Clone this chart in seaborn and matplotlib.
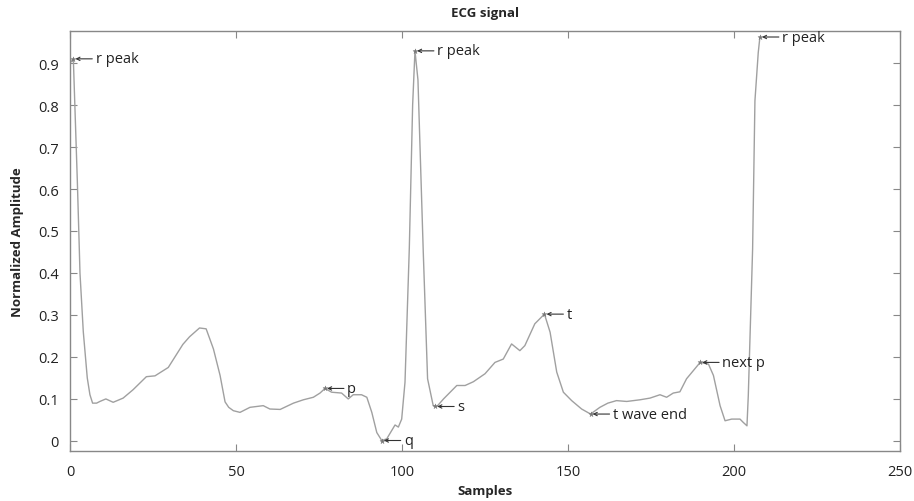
import matplotlib
matplotlib.use("Agg")
import matplotlib.pyplot as plt
import seaborn as sns
import pandas as pd

samples = [0, 1, 2.2, 2.8, 3, 4, 5.2, 6.0, 6.8, 8, 9, 10.8, 13, 16, 19, 23, 25.6, 28, 29.6, 32, 34, 36, 39, 41,
           43.2, 45.2, 46.7, 47.8, 49.2, 51.2, 54.2, 58.2, 60.2, 63.3, 67.3, 70.3, 73.3, 75.3, 76.8, 78.8,
           81.8, 83.8, 85.3, 87.8, 89.4, 90.9, 92.4, 93.9, 95.4, 97.9, 98.9, 99.9, 100.9, 102.2, 103.2,
           103.9, 104.8, 106.4, 107.7, 109.4, 110.5, 112.5, 114.5, 116.5, 119, 121.5, 125, 128, 130.5,
           133, 135.5, 137, 140, 142.9, 144.6, 146.6, 148.6, 151.1, 154.1, 156.8, 159.6, 162, 164.6,
           167.7, 171.7, 174.7, 177.7, 179.7, 181.7, 183.7, 185.7, 187.7, 189.8, 192.3, 193.8, 195.8,
           197.3, 199.3, 201.8, 202.8, 203.9, 204.3, 205.6, 206.3, 207.3, 207.8]
amplitude = [0.90, 0.91, 0.62, 0.457, 0.40, 0.26, 0.15, 0.11, 0.090, 0.090, 0.094, 0.100, 0.092, 0.102, 0.122, 0.153,
             0.155, 0.167, 0.175, 0.205, 0.230, 0.248, 0.269, 0.267, 0.219, 0.156, 0.093, 0.080, 0.072, 0.068,
             0.080, 0.084, 0.076, 0.075, 0.090, 0.098, 0.104, 0.114, 0.125, 0.116, 0.114, 0.100, 0.110,
             0.110, 0.104, 0.068, 0.020, 0.001, 0.005, 0.038, 0.033, 0.052, 0.140, 0.46, 0.80, 0.929,
             0.86, 0.45, 0.148, 0.084, 0.082, 0.100, 0.116, 0.132, 0.132, 0.141, 0.160, 0.187, 0.195,
             0.231, 0.215, 0.227, 0.279, 0.302, 0.259, 0.164, 0.116, 0.096, 0.076, 0.064, 0.080, 0.090,
             0.096, 0.094, 0.098, 0.102, 0.110, 0.104, 0.114, 0.117, 0.148, 0.167, 0.187, 0.183, 0.156,
             0.084, 0.048, 0.052, 0.052, 0.044, 0.036, 0.108, 0.457, 0.81, 0.925, 0.962]

ann_labels = ["r peak", "r peak", "r peak", "p", "q", "s", "t", "t wave end", "next p"]
ann_x = [1, 103.9, 207.8, 76.8, 93.9, 110.0, 142.9, 156.8, 189.8]
ann_y = [0.91, 0.929, 0.962, 0.125, 0.001, 0.082, 0.302, 0.064, 0.187]

x_ticks = [0, 50, 100, 150, 200, 250]
y_ticks = [0, 0.1, 0.2, 0.3, 0.4, 0.5, 0.6, 0.7, 0.8, 0.9]

sns.set_theme(style="white")
plt.rcParams['font.family'] = ['Open Sans', 'DejaVu Sans']

df = pd.DataFrame({"Samples": samples, "Amplitude": amplitude})

fig = plt.figure(figsize=(9.14, 5.02), dpi=100)
ax = fig.add_axes([0.0766, 0.0996, 0.9081, 0.8364])
sns.lineplot(data=df, x="Samples", y="Amplitude", ax=ax, color="#a0a0a0", linewidth=1.0,
             sort=False, estimator=None)

ax.scatter(ann_x, ann_y, marker="*", s=14, color="#777777", zorder=3, linewidths=0.3)
for lab, xv, yv in zip(ann_labels, ann_x, ann_y):
    ax.annotate(lab, xy=(xv, yv), xytext=(16, 0), textcoords="offset points",
                va="center", ha="left", fontsize=10.5, color="#222222",
                arrowprops=dict(arrowstyle="->", color="#333333", lw=0.8,
                                shrinkA=0, shrinkB=1.5, mutation_scale=6))

ax.set_xlim(0, 250)
ax.set_ylim(-0.024, 0.976)
ax.set_xticks(x_ticks)
ax.set_yticks(y_ticks)
ax.set_yticklabels(["0" if v == 0 else f"{v:.1f}" for v in y_ticks])
ax.tick_params(direction="in", length=5, width=0.8, color="#888888", labelsize=10.5,
               labelcolor="#222222", top=True, right=True, bottom=True, left=True, pad=8)
ax.tick_params(axis="x", pad=9)
for s in ax.spines.values():
    s.set_color("#888888")
    s.set_linewidth(1.0)

ax.set_xlabel("Samples", fontsize=9.5, fontweight="bold", labelpad=4)
ax.set_ylabel("Normalized Amplitude", fontsize=9.5, fontweight="bold", labelpad=10)
ax.set_title("ECG signal", fontsize=9.5, fontweight="bold", pad=11)

fig.savefig("out.png", dpi=100, facecolor="white")
